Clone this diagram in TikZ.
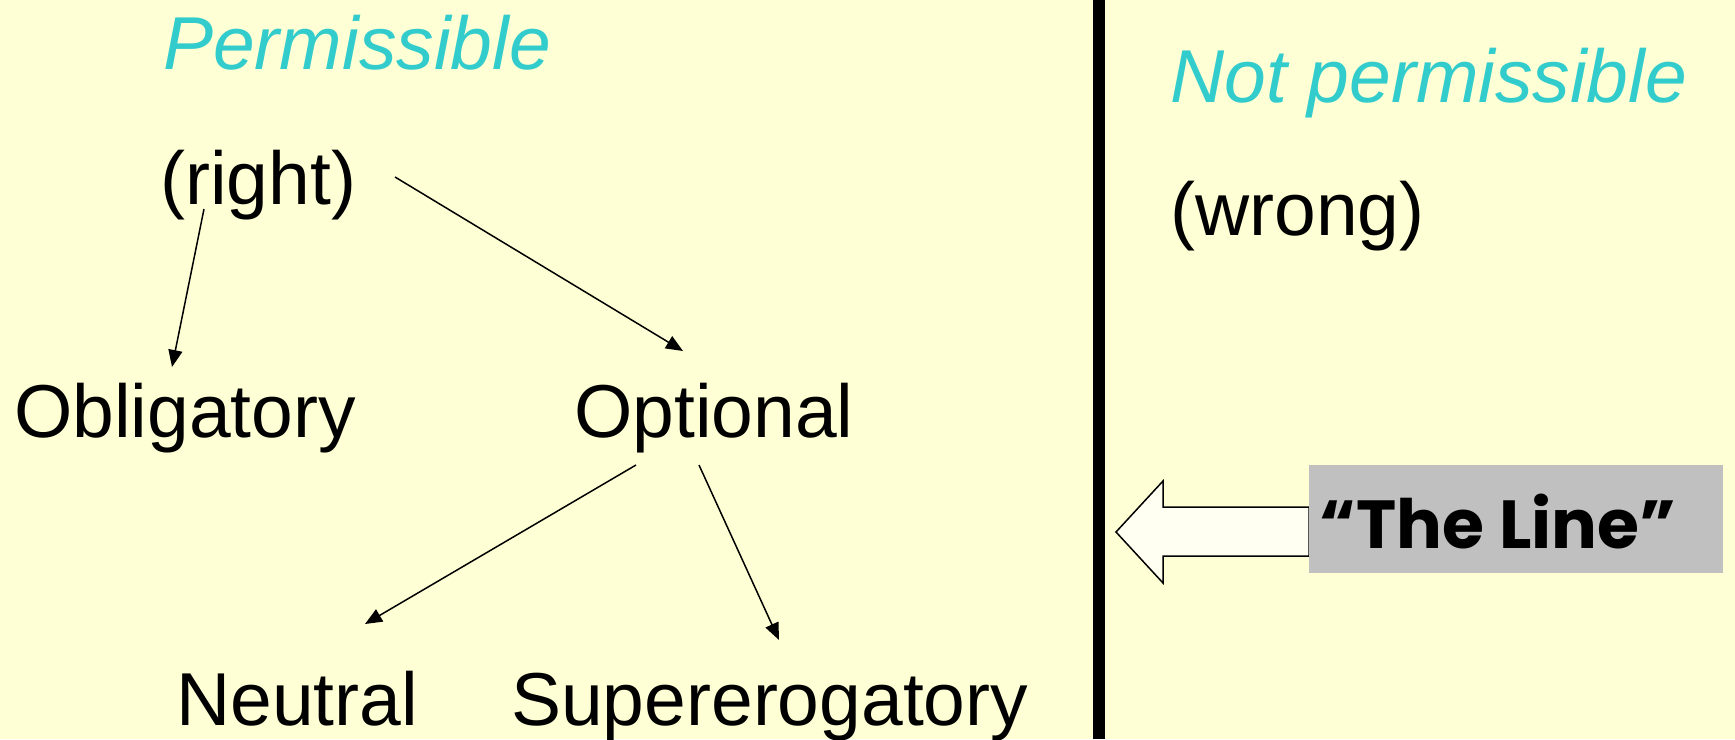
\documentclass[tikz,border=0pt]{standalone}
\usepackage{fontspec}
\setmainfont{Liberation Sans}
\newfontfamily\linefont{Poppins}
\usetikzlibrary{arrows.meta,calc}
\definecolor{bg}{HTML}{FFFFD5}
\definecolor{cyanish}{HTML}{33CCCC}
\definecolor{boxgray}{HTML}{C0C0C0}
\definecolor{arrowfill}{HTML}{FFFFF2}
\tikzset{
  lbl/.style={anchor=base west, inner sep=0pt, font=\fontsize{75}{80}\selectfont},
  head/.style={lbl, text=cyanish, font=\fontsize{75}{80}\selectfont\itshape},
  arr/.style={line width=1.5pt, -{Triangle[length=17pt,width=14pt]}},
}
\begin{document}
\begin{tikzpicture}[x=1pt,y=-1pt]
\fill[bg] (0,0) rectangle (1735,739);
\useasboundingbox (0,0) rectangle (1735,739);
% dividing line
\fill[black] (1093,0) rectangle (1105,739);
% headings
\node[head] (perm) at (163,69) {Permissible};
\node[head] (notperm) at (1170,102) {Not permissible};
% terms
\node[lbl] (right) at (160,204) {(right)};
\node[lbl] (wrong) at (1170,235) {(wrong)};
\node[lbl] (oblig) at (14,437) {Obligatory};
\node[lbl] (opt) at (574,437) {Optional};
\node[lbl] (neut) at (176,725) {Neutral};
\node[lbl] (super) at (511,725) {Supererogatory};
% connector ends
\coordinate (r1) at ($(right.base west)+(44,5)$);
\coordinate (r2) at ($(right.base west)+(235,-27)$);
\coordinate (o1) at ($(oblig.base west)+(158,-70)$);
\coordinate (o2) at ($(opt.base west)+(109,-86)$);
\coordinate (p1) at ($(opt.base west)+(62,28)$);
\coordinate (p2) at ($(opt.base west)+(125,28)$);
\coordinate (n1) at ($(neut.base west)+(189,-101)$);
\coordinate (s1) at ($(super.base west)+(268,-85)$);
\draw[arr] (r1) -- (o1);
\draw[arr] (r2) -- (o2);
\draw[arr] (p1) -- (n1);
\draw[arr] (p2) -- (s1);
% block arrow pointing to the line
\draw[line width=1.5pt, fill=arrowfill, line join=miter]
  (1116,532) -- (1163,481) -- (1163,507) -- (1309,507) -- (1309,556)
  -- (1163,556) -- (1163,583) -- cycle;
\node[fill=boxgray, minimum width=414pt, minimum height=108pt, inner sep=0pt, anchor=north west]
  (linebox) at (1309,465) {};
\node[inner sep=0pt, anchor=base] (linetxt) at (1498,548)
  {\linefont\bfseries\fontsize{68}{70}\selectfont “The Line”};
\end{tikzpicture}
\end{document}
